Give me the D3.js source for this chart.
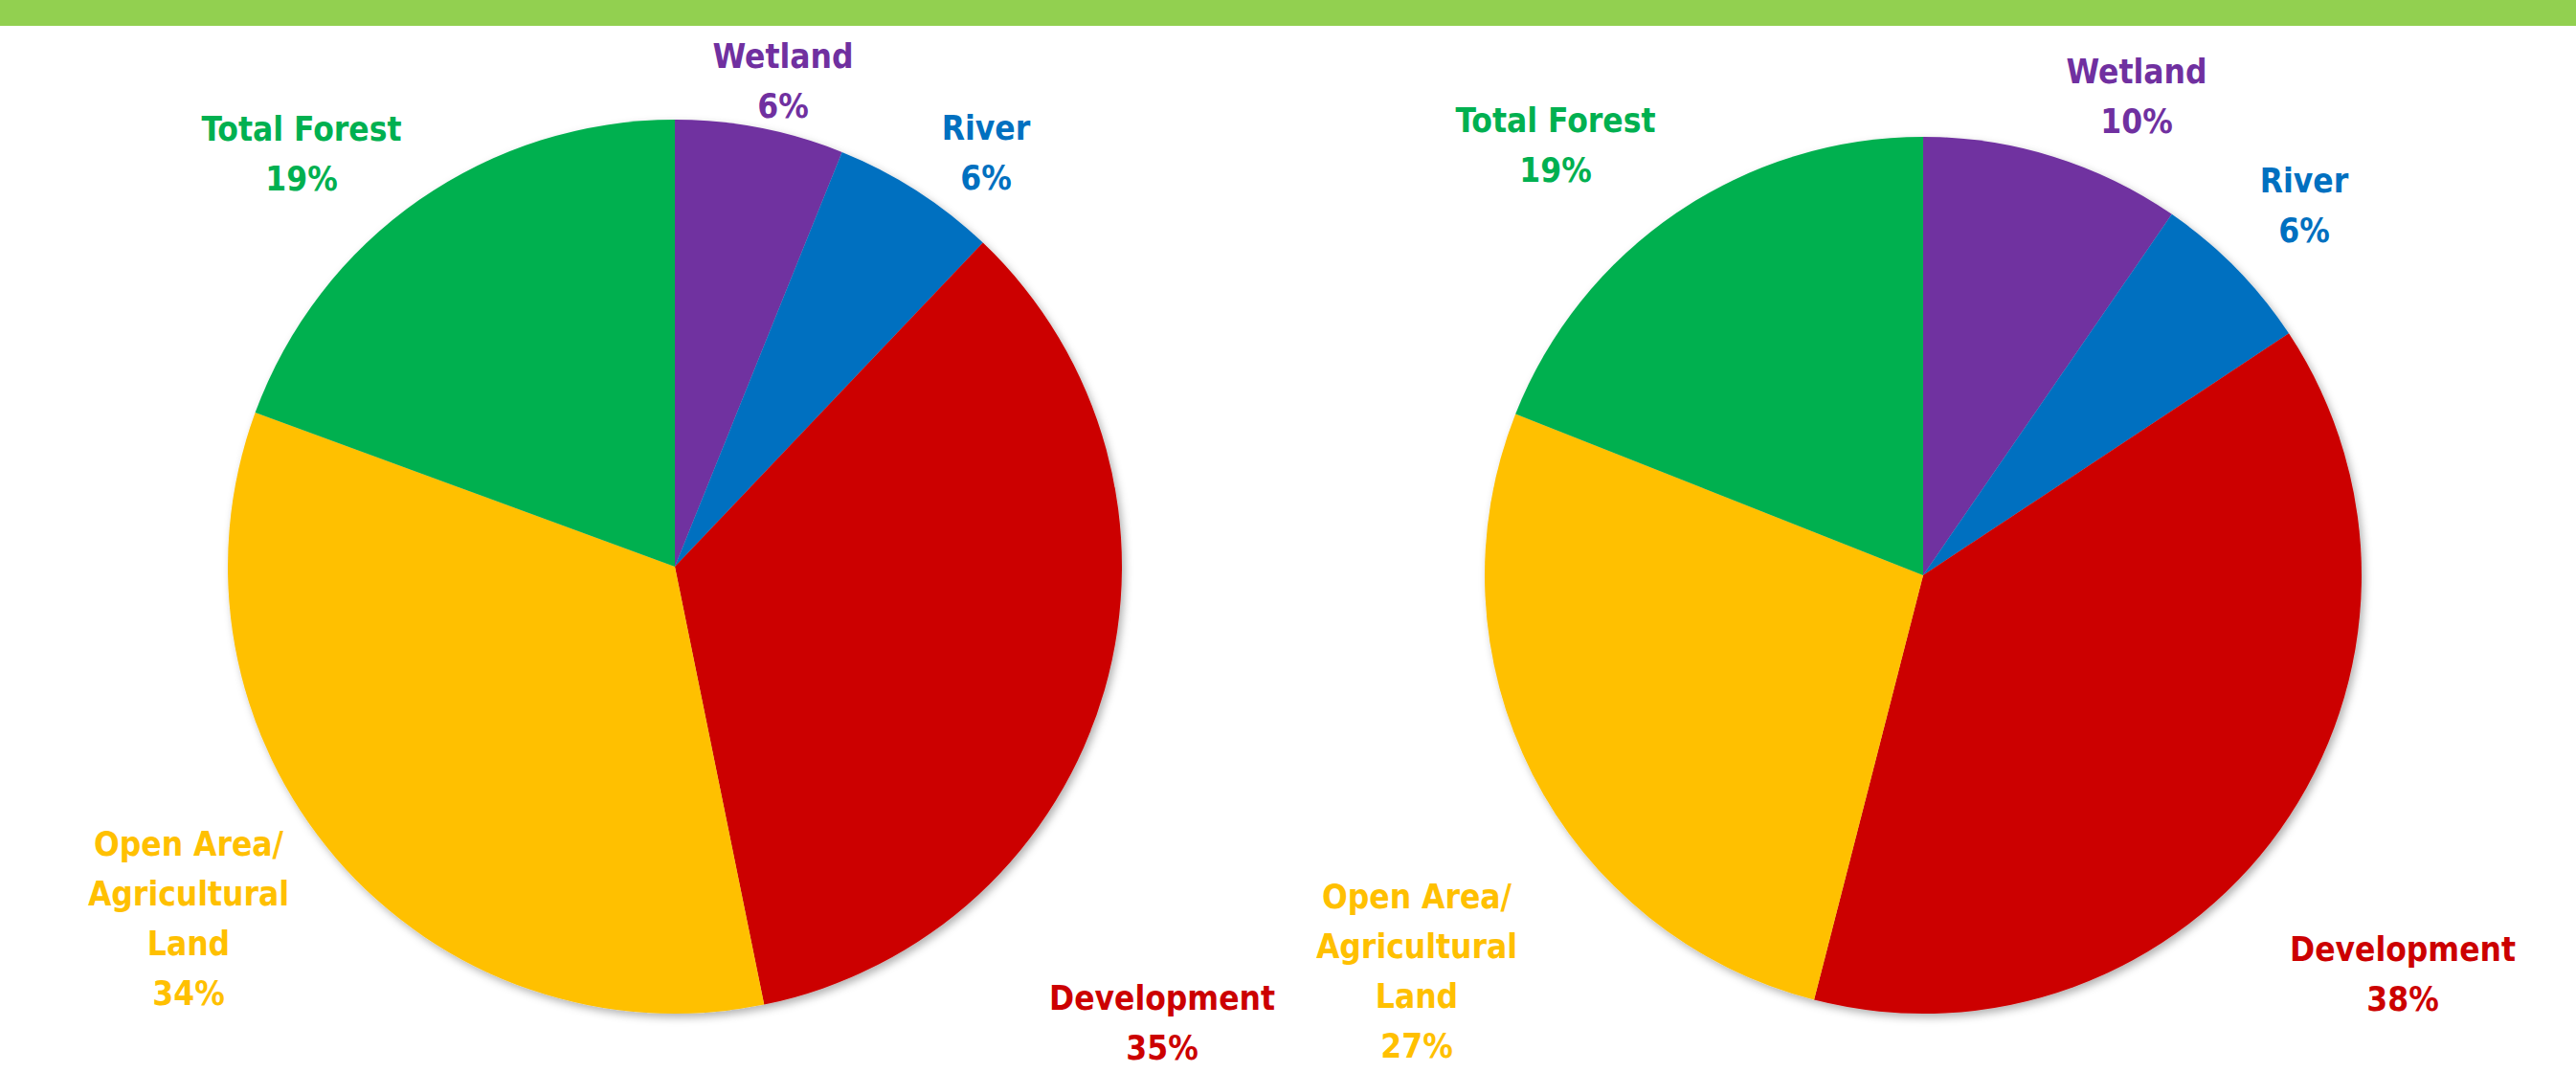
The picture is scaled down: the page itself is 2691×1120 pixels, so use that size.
<!DOCTYPE html>
<html>
<head>
<meta charset="utf-8">
<script src="https://cdn.jsdelivr.net/npm/d3@7"></script>
<style>
  html, body { margin: 0; padding: 0; background: #ffffff; }
  svg { display: block; }
</style>
</head>
<body>
<div id="chart"></div>
<script>
const width = 2691;
const height = 1120;

// Land cover categories, clockwise from 12 o'clock
const categories = ["Wetland", "River", "Development", "Open Area/ Agricultural Land", "Total Forest"];
const labelLines = [["Wetland"], ["River"], ["Development"], ["Open Area/", "Agricultural", "Land"], ["Total Forest"]];
const colors = ["#7030A0", "#0070C0", "#CC0000", "#FFC000", "#00B050"];

// Slice shares (percent)
const leftValues = [6.1, 6.0, 34.7, 33.8, 19.4];
const rightValues = [9.6, 6.1, 38.3, 27.0, 19.0];

// Percent labels as printed
const leftLabels = ["6%", "6%", "35%", "34%", "19%"];
const rightLabels = ["10%", "6%", "38%", "27%", "19%"];

// Layout: pie centres, radii and label anchors (offset of first baseline from centre)
const pies = [
    {
        values: leftValues, labels: leftLabels, cx: 705, cy: 592, r: 467,
        anchors: [[113, -521], [325, -446], [509, 463], [-508, 302], [-390, -445]]
    },
    {
        values: rightValues, labels: rightLabels, cx: 2009, cy: 601, r: 458,
        anchors: [[223, -514], [398, -400], [501, 403], [-529, 348], [-384, -463]]
    }
];

const svg = d3.select("#chart")
    .append("svg")
    .attr("width", width)
    .attr("height", height);

// soft shadow under each pie
const defs = svg.append("defs");
const shadow = defs.append("filter")
    .attr("id", "pie-shadow")
    .attr("x", "-10%").attr("y", "-10%")
    .attr("width", "120%").attr("height", "120%");
shadow.append("feDropShadow")
    .attr("dx", 3)
    .attr("dy", 4)
    .attr("stdDeviation", 4)
    .attr("flood-color", "#000")
    .attr("flood-opacity", 0.3);

// green band on top
svg.append("rect")
    .attr("x", 0)
    .attr("y", 0)
    .attr("width", width)
    .attr("height", 27)
    .attr("fill", "#92D050");

const pie = d3.pie().sort(null).value(d => d);
const lineHeight = 52;

pies.forEach(p => {
    const arc = d3.arc().innerRadius(0).outerRadius(p.r);
    const g = svg.append("g")
        .attr("transform", `translate(${p.cx}, ${p.cy})`);

    g.append("g")
        .attr("filter", "url(#pie-shadow)")
        .selectAll("path")
        .data(pie(p.values))
        .join("path")
        .attr("d", arc)
        .attr("fill", (d, i) => colors[i]);

    categories.forEach((c, i) => {
        const lines = labelLines[i].concat([p.labels[i]]);
        const [ax, ay] = p.anchors[i];
        const text = g.append("text")
            .attr("text-anchor", "middle")
            .style("font-family", "'Liberation Sans Narrow', 'DejaVu Sans Condensed', 'Roboto', sans-serif")
            .style("font-stretch", "condensed")
            .style("font-weight", "bold")
            .style("font-size", "35px")
            .attr("fill", colors[i]);
        lines.forEach((l, k) => {
            text.append("tspan")
                .attr("x", ax)
                .attr("y", ay + k * lineHeight)
                .text(l);
        });
    });
});
</script>
</body>
</html>
